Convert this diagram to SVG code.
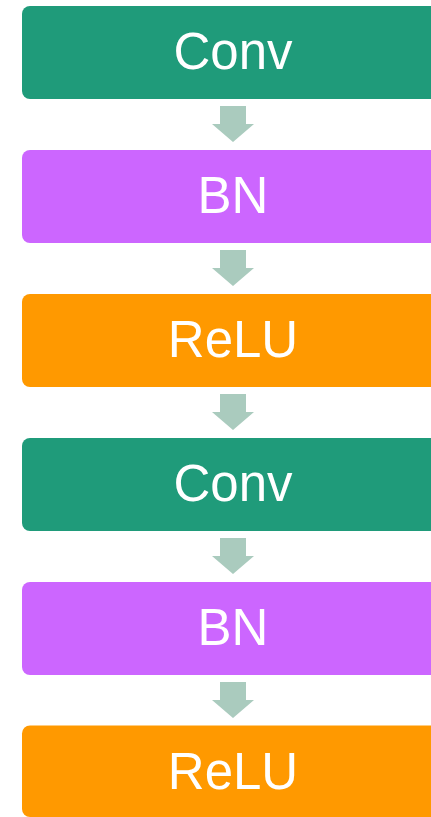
<svg xmlns="http://www.w3.org/2000/svg" width="431" height="817" viewBox="0 0 431 817">
<style>
.box{stroke:none}
.conv{fill:#1F9B7A}
.bn{fill:#CC66FF}
.relu{fill:#FF9900}
.lbl{font-family:"Liberation Sans",Arial,sans-serif;font-size:51px;fill:#FFFFFF;text-anchor:middle}
.arr{fill:#AACBBE}
</style>
<defs>
<path id="arrow" d="M220,0 H246 V18 H254 L233,36 L212,18 H220 Z"/>
</defs>
<g id="connectors">
<use href="#arrow" class="arr" transform="translate(0,106)"/>
<use href="#arrow" class="arr" transform="translate(0,250)"/>
<use href="#arrow" class="arr" transform="translate(0,394)"/>
<use href="#arrow" class="arr" transform="translate(0,538)"/>
<use href="#arrow" class="arr" transform="translate(0,682)"/>
</g>
<g id="node1"><rect class="box conv" x="22" y="6" width="430" height="93" rx="8"/><text class="lbl" x="233" y="69">Conv</text></g>
<g id="node2"><rect class="box bn" x="22" y="150" width="430" height="93" rx="8"/><text class="lbl" x="233" y="213">BN</text></g>
<g id="node3"><rect class="box relu" x="22" y="294" width="430" height="93" rx="8"/><text class="lbl" x="233" y="357">ReLU</text></g>
<g id="node4"><rect class="box conv" x="22" y="438" width="430" height="93" rx="8"/><text class="lbl" x="233" y="501">Conv</text></g>
<g id="node5"><rect class="box bn" x="22" y="582" width="430" height="93" rx="8"/><text class="lbl" x="233" y="645">BN</text></g>
<g id="node6"><rect class="box relu" x="22" y="725.5" width="430" height="91.5" rx="8"/><text class="lbl" x="233" y="789">ReLU</text></g>
</svg>
